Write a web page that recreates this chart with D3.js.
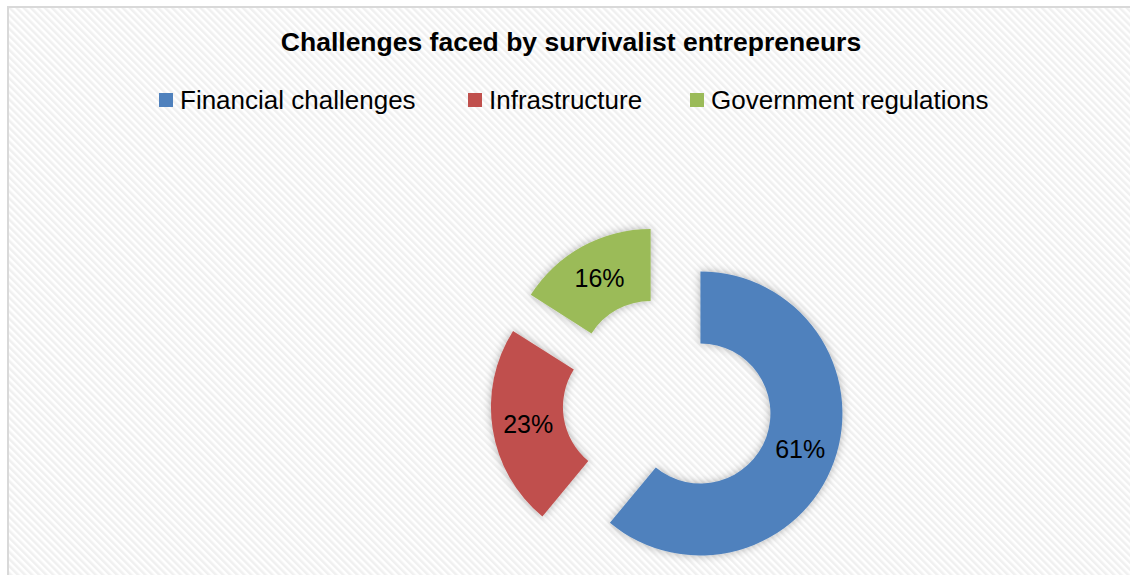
<!DOCTYPE html>
<html>
<head>
<meta charset="utf-8">
<script src="https://cdn.jsdelivr.net/npm/d3@7"></script>
<style>
  html, body { margin: 0; padding: 0; background: #ffffff; }
  svg { display: block; }
  text { font-family: "Liberation Sans", Arial, sans-serif; }
</style>
</head>
<body>
<svg id="chart" width="1130" height="575"></svg>
<script>
// Chart data
const title = "Challenges faced by survivalist entrepreneurs";
const categories = ["Financial challenges", "Infrastructure", "Government regulations"];
const values = [61, 23, 16];
const colors = ["#4f81bd", "#c0504d", "#9bbb59"];

const width = 1130, height = 575;
const svg = d3.select("#chart");
const defs = svg.append("defs");

// Diagonal hatched background
const pat = defs.append("pattern")
  .attr("id", "hatch")
  .attr("patternUnits", "userSpaceOnUse")
  .attr("width", 5).attr("height", 5)
  .attr("patternTransform", "rotate(-45)");
pat.append("rect").attr("width", 5).attr("height", 5).attr("fill", "#ffffff");
pat.append("rect").attr("width", 2.5).attr("height", 5).attr("fill", "#f0f0f0");

// Soft shadow around the slices
const shadow = defs.append("filter")
  .attr("id", "shadow")
  .attr("x", "-30%").attr("y", "-30%")
  .attr("width", "160%").attr("height", "160%");
shadow.append("feDropShadow")
  .attr("dx", 0).attr("dy", 0)
  .attr("stdDeviation", 4.5)
  .attr("flood-color", "#000")
  .attr("flood-opacity", 0.3);

// Chart area frame
svg.append("rect")
  .attr("x", 8).attr("y", 7)
  .attr("width", width + 20).attr("height", height + 20)
  .attr("fill", "url(#hatch)")
  .attr("stroke", "#d9d9d9")
  .attr("stroke-width", 2);

// Title
svg.append("text")
  .attr("x", 571).attr("y", 51)
  .attr("text-anchor", "middle")
  .attr("font-size", 26.5)
  .attr("font-weight", "bold")
  .attr("fill", "#000")
  .text(title);

// Legend
const legendX = [159, 468, 690];
const legend = svg.append("g");
categories.forEach((c, i) => {
  const g = legend.append("g").attr("transform", `translate(${legendX[i]},0)`);
  g.append("rect")
    .attr("x", 0).attr("y", 93)
    .attr("width", 14).attr("height", 14)
    .attr("fill", colors[i]);
  g.append("text")
    .attr("x", 21).attr("y", 109)
    .attr("font-size", 26)
    .attr("fill", "#000")
    .text(c);
});

// Exploded doughnut
const cx = 667.5, cy = 401.6;
const explode = 35;
const innerR = 70, outerR = 142;

const pie = d3.pie().sort(null).value(d => d.value);
const arc = d3.arc().innerRadius(innerR).outerRadius(outerR);
const arcs = pie(values.map((v, i) => ({ value: v, name: categories[i], color: colors[i] })));

const slices = svg.append("g")
  .selectAll("g")
  .data(arcs)
  .join("g")
  .attr("transform", d => {
    const mid = (d.startAngle + d.endAngle) / 2;
    const ox = cx + explode * Math.sin(mid);
    const oy = cy - explode * Math.cos(mid);
    return `translate(${ox},${oy})`;
  });

slices.append("path")
  .attr("d", arc)
  .attr("fill", d => d.data.color)
  .attr("filter", "url(#shadow)");

slices.append("text")
  .attr("transform", d => `translate(${arc.centroid(d)})`)
  .attr("text-anchor", "middle")
  .attr("dy", "0.36em")
  .attr("font-size", 25)
  .attr("fill", "#000")
  .text(d => d.data.value + "%");
</script>
</body>
</html>
